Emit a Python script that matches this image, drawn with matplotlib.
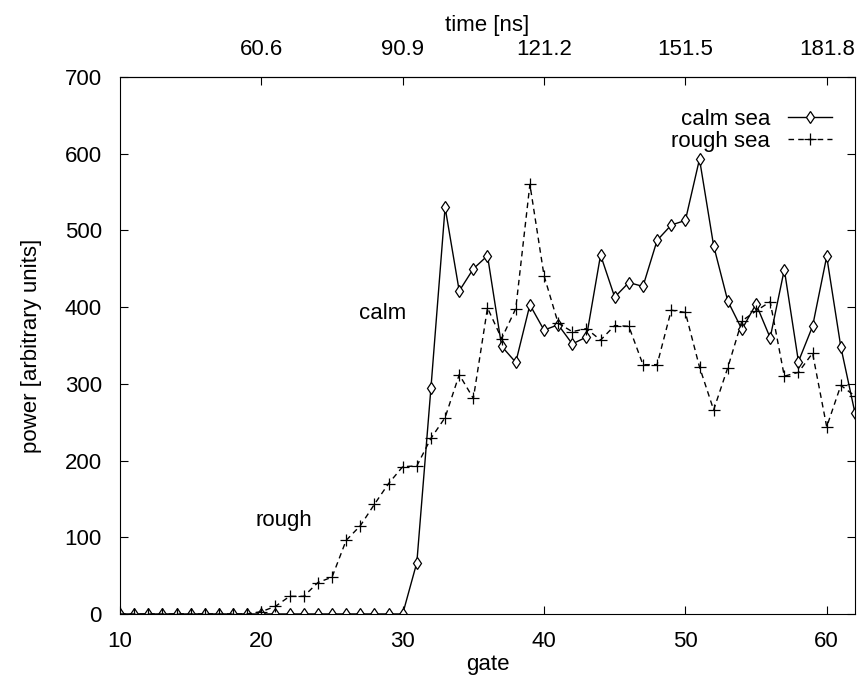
import numpy as np
import matplotlib.pyplot as plt

plt.rcParams['font.family'] = ['Liberation Sans', 'DejaVu Sans']

# range gates and the two radar echoes
gate = np.arange(10, 63)
calm = [0] * 21 + [67, 295, 530, 421, 450, 467, 349, 328, 403, 370,
                   377, 352, 361, 468, 413, 432, 427, 487, 507, 513,
                   593, 480, 408, 371, 404, 360, 449, 329, 375, 466,
                   348, 262]
rough = [0] * 10 + [3, 10, 23, 23, 41, 48, 96, 115, 143, 170,
                    192, 193, 229, 256, 312, 281, 399, 359, 398, 560,
                    441, 379, 368, 372, 357, 376, 375, 325, 325, 396,
                    393, 322, 266, 321, 382, 395, 407, 310, 315, 340,
                    244, 298, 284]

ns_per_gate = 3.03
time_ticks = [60.6, 90.9, 121.2, 151.5, 181.8]

fs = 16

fig = plt.figure(figsize=(8.61, 6.77), dpi=100)
ax = fig.add_axes([0.1394, 0.0931, 0.8536, 0.7932])

ax.plot(gate, calm, color='black', lw=1.0, marker='d', ms=6.5, mfc='white',
        mew=0.9, label='calm sea')
ax.plot(gate, rough, color='black', lw=1.0, ls=(0, (4, 3)), marker='+', ms=9,
        mew=0.9, label='rough sea')

ax.set_xlim(10, 62)
ax.set_ylim(0, 700)
ax.set_xticks(range(10, 61, 10))
ax.set_yticks(range(0, 701, 100))
ax.tick_params(direction='in', length=6, labelsize=fs, right=True)
ax.tick_params(axis='x', pad=12)
ax.tick_params(axis='y', pad=13)
ax.set_xlabel('gate', fontsize=fs, labelpad=2)
ax.set_ylabel('power [arbitrary units]', fontsize=fs, labelpad=16)

top = ax.secondary_xaxis('top', functions=(lambda g: g * ns_per_gate,
                                           lambda t: t / ns_per_gate))
top.set_xticks(time_ticks)
top.set_xticklabels([str(t) for t in time_ticks])
top.tick_params(direction='in', length=6, labelsize=fs, pad=12)
top.set_xlabel('time [ns]', fontsize=fs, labelpad=6)

ax.text(28.6, 392, 'calm', fontsize=fs, ha='center', va='center')
ax.text(21.6, 122, 'rough', fontsize=fs, ha='center', va='center')

leg = ax.legend(loc='upper right', bbox_to_anchor=(0.981, 0.957),
                fontsize=fs, frameon=False, markerfirst=False,
                handlelength=2.0, borderaxespad=0, labelspacing=0.05,
                handletextpad=0.8)
for t in leg.get_texts():
    t.set_ha('right')

fig.savefig('out.png', dpi=100)
